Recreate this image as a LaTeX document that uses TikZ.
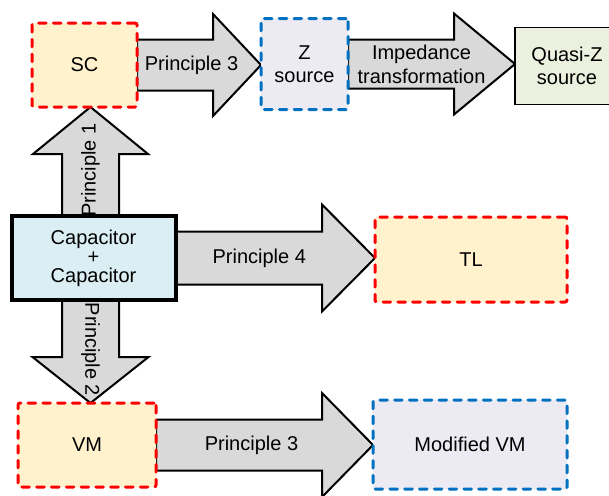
\documentclass[tikz,border=0pt]{standalone}
\usepackage{fontspec}
\setmainfont{Liberation Sans}
\usetikzlibrary{calc,positioning}
\pgfdeclarelayer{background}
\pgfsetlayers{background,main}
\definecolor{rd}{RGB}{255,0,0}
\definecolor{bl}{RGB}{0,112,192}
\definecolor{cream}{RGB}{255,242,204}
\definecolor{lav}{RGB}{236,234,242}
\definecolor{capblue}{RGB}{218,238,243}
\definecolor{qgreen}{RGB}{235,241,222}
\definecolor{agray}{RGB}{217,217,217}
\tikzset{
  box/.style={rectangle,inner sep=0,outer sep=0,align=center,font=\fontsize{10}{11.5}\selectfont},
  redbox/.style={box,draw=rd,fill=cream,line width=1.5pt,line cap=round,dash pattern=on 3.8pt off 3.6pt,rounded corners=1pt},
  bluebox/.style={box,draw=bl,fill=lav,line width=1.5pt,line cap=round,dash pattern=on 3.8pt off 3.6pt,rounded corners=1pt},
  bodyw/.store in=\bodyw,headw/.store in=\headw,headl/.store in=\headl,lpos/.store in=\lpos,
  bodyw=12.75pt,headw=26pt,headl=25pt,lpos=0.44,
  % big block arrow drawn from start to tip
  fatarrow/.style={draw=black,fill=agray,line width=1pt,font=\fontsize{10}{12}\selectfont,
    to path={($(\tikztotarget)!\headl!(\tikztostart)$) coordinate (fab)
      ($(\tikztostart)!\lpos!(\tikztotarget)$)--++(0,0) \tikztonodes
      ($(\tikztostart)!\bodyw!90:(\tikztotarget)$)
      --($(fab)!\bodyw!-90:(\tikztostart)$)
      --($(fab)!\headw!-90:(\tikztostart)$)
      --(\tikztotarget)
      --($(fab)!\headw!90:(\tikztostart)$)
      --($(fab)!\bodyw!90:(\tikztostart)$)
      --($(\tikztostart)!\bodyw!-90:(\tikztotarget)$)--cycle}}
}
\begin{document}
\begin{tikzpicture}[x=0.5pt,y=-0.5pt]
\useasboundingbox(0,0)rectangle(609,495);
% boxes
\node[redbox,minimum width=52.5pt,minimum height=42pt](sc)at(84.5,65){SC};
\node[bluebox,minimum width=43.5pt,minimum height=45.5pt](zs)at(304.5,64){Z\\source};
\node[box,draw=black,fill=qgreen,line width=0.75pt,minimum width=52pt,minimum height=38.5pt](qz)at(567,66){Quasi-Z\\source};
\node[box,draw=black,fill=capblue,line width=2pt,minimum width=82pt,minimum height=42pt,font=\fontsize{10}{9.5}\selectfont](cap)at(93.5,258){Capacitor\\+\\Capacitor};
\node[redbox,minimum width=96pt,minimum height=42.5pt](tl)at(471,259.5){TL};
\node[redbox,minimum width=69pt,minimum height=42pt](vm)at(87,445){VM};
\node[bluebox,minimum width=97pt,minimum height=44.5pt](mvm)at(470,444.5){Modified VM};
% arrows
\begin{pgfonlayer}{background}
\draw[fatarrow,headl=24pt,headw=25.5pt](sc.east)to node{Principle 3}(sc.east-|zs.west);
\draw[fatarrow,headl=30.5pt,headw=25.25pt,bodyw=12.25pt](zs.east)to node[align=center]{Impedance\\transformation}(zs.east-|qz.west);
\draw[fatarrow,headl=26.5pt,headw=26.75pt,bodyw=13.25pt,lpos=0.42](cap.east)to node{Principle 4}(cap.east-|tl.west);
\draw[fatarrow,headl=25.5pt,headw=26pt](vm.east)to node{Principle 3}(vm.east-|mvm.west);
\draw[fatarrow,headl=23.5pt,headw=28.75pt,bodyw=14.25pt,lpos=0.42]([xshift=-1.5pt]cap.north)to node[rotate=90]{Principle 1}([xshift=-1.5pt]cap.north|-sc.south);
\draw[fatarrow,headl=23pt,headw=29pt,bodyw=14.25pt,lpos=0.48]([xshift=-1.5pt]cap.south)to node[rotate=-90]{Principle 2}([xshift=-1.5pt]cap.south|-vm.north);
\end{pgfonlayer}
\end{tikzpicture}
\end{document}
